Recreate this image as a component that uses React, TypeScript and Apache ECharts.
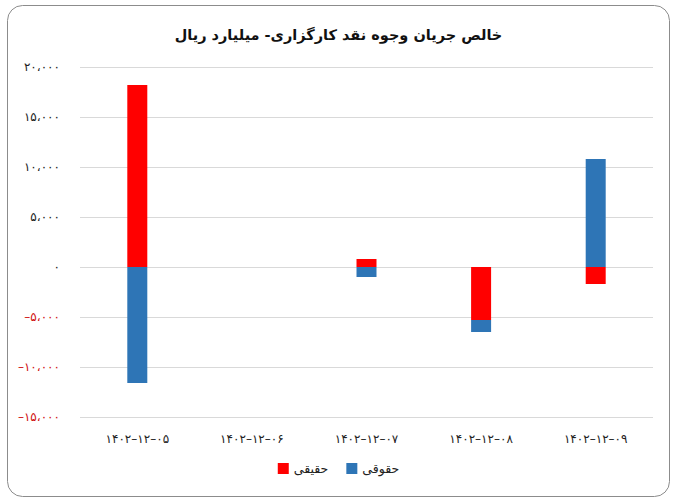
import React, { useEffect, useRef } from "react";
import * as echarts from "echarts";

const titleText = "خالص جریان وجوه نقد کارگزاری- میلیارد ریال";
const categories = ["۱۴۰۲–۱۲–۰۵", "۱۴۰۲–۱۲–۰۶", "۱۴۰۲–۱۲–۰۷", "۱۴۰۲–۱۲–۰۸", "۱۴۰۲–۱۲–۰۹"];
const seriesNames = ["حقیقی", "حقوقی"];
const realValues = [18200, 0, 800, -5300, -1700];
const legalValues = [-11600, 0, -1000, -1200, 10800];
const yMin = -15000;
const yMax = 20000;
const yInterval = 5000;

const faDigits = "۰۱۲۳۴۵۶۷۸۹";
function toFa(n: number): string {
  const abs = Math.abs(n);
  const s = abs.toLocaleString("en-US").replace(/,/g, "،");
  const fa = s.replace(/[0-9]/g, (d) => faDigits[Number(d)]);
  return n < 0 ? "–" + fa : fa;
}

const FONT = "DejaVu Sans";

export default function App() {
  const ref = useRef<HTMLDivElement>(null);
  useEffect(() => {
    if (!ref.current) return;
    const chart = echarts.init(ref.current, null, { renderer: "svg" });
    chart.setOption({
      animation: false,
      backgroundColor: "#ffffff",
      textStyle: { fontFamily: FONT },
      graphic: [
        {
          type: "rect",
          shape: { x: 7.5, y: 5.5, width: 662, height: 491, r: 15 },
          style: { fill: "none", stroke: "#8c8c8c", lineWidth: 1 },
          silent: true,
        },
      ],
      title: {
        text: titleText,
        left: "center",
        top: 22,
        textStyle: { fontFamily: FONT, fontSize: 14.5, fontWeight: "bold", color: "#111" },
      },
      legend: {
        data: seriesNames,
        bottom: 22,
        left: "center",
        itemWidth: 11,
        itemHeight: 11,
        itemGap: 18,
        icon: "rect",
        textStyle: { fontFamily: FONT, fontSize: 12.5, color: "#222" },
      },
      grid: { left: 80, right: 24, top: 67, bottom: 85, containLabel: false },
      xAxis: {
        type: "category",
        data: categories,
        position: "bottom",
        axisLine: { show: false, onZero: false },
        axisTick: { show: false },
        axisLabel: { fontFamily: FONT, fontSize: 12, color: "#222", margin: 16 },
      },
      yAxis: {
        type: "value",
        min: yMin,
        max: yMax,
        interval: yInterval,
        axisLine: { show: false },
        axisTick: { show: false },
        splitLine: { lineStyle: { color: "#d9d9d9", width: 1 } },
        axisLabel: {
          fontFamily: FONT,
          fontSize: 12,
          margin: 20,
          formatter: (v: number) => toFa(v),
          color: (v: any) => (Number(v) < 0 ? "#d01010" : "#222"),
        },
      },
      series: [
        {
          name: seriesNames[0],
          type: "bar",
          stack: "total",
          barWidth: 20,
          data: realValues,
          itemStyle: { color: "#ff0000" },
        },
        {
          name: seriesNames[1],
          type: "bar",
          stack: "total",
          barWidth: 20,
          data: legalValues,
          itemStyle: { color: "#2e75b6" },
        },
      ],
    });
    return () => chart.dispose();
  }, []);
  return (
    <div
      ref={ref}
      style={{ position: "fixed", left: 0, top: 0, width: 677, height: 502 }}
    />
  );
}
